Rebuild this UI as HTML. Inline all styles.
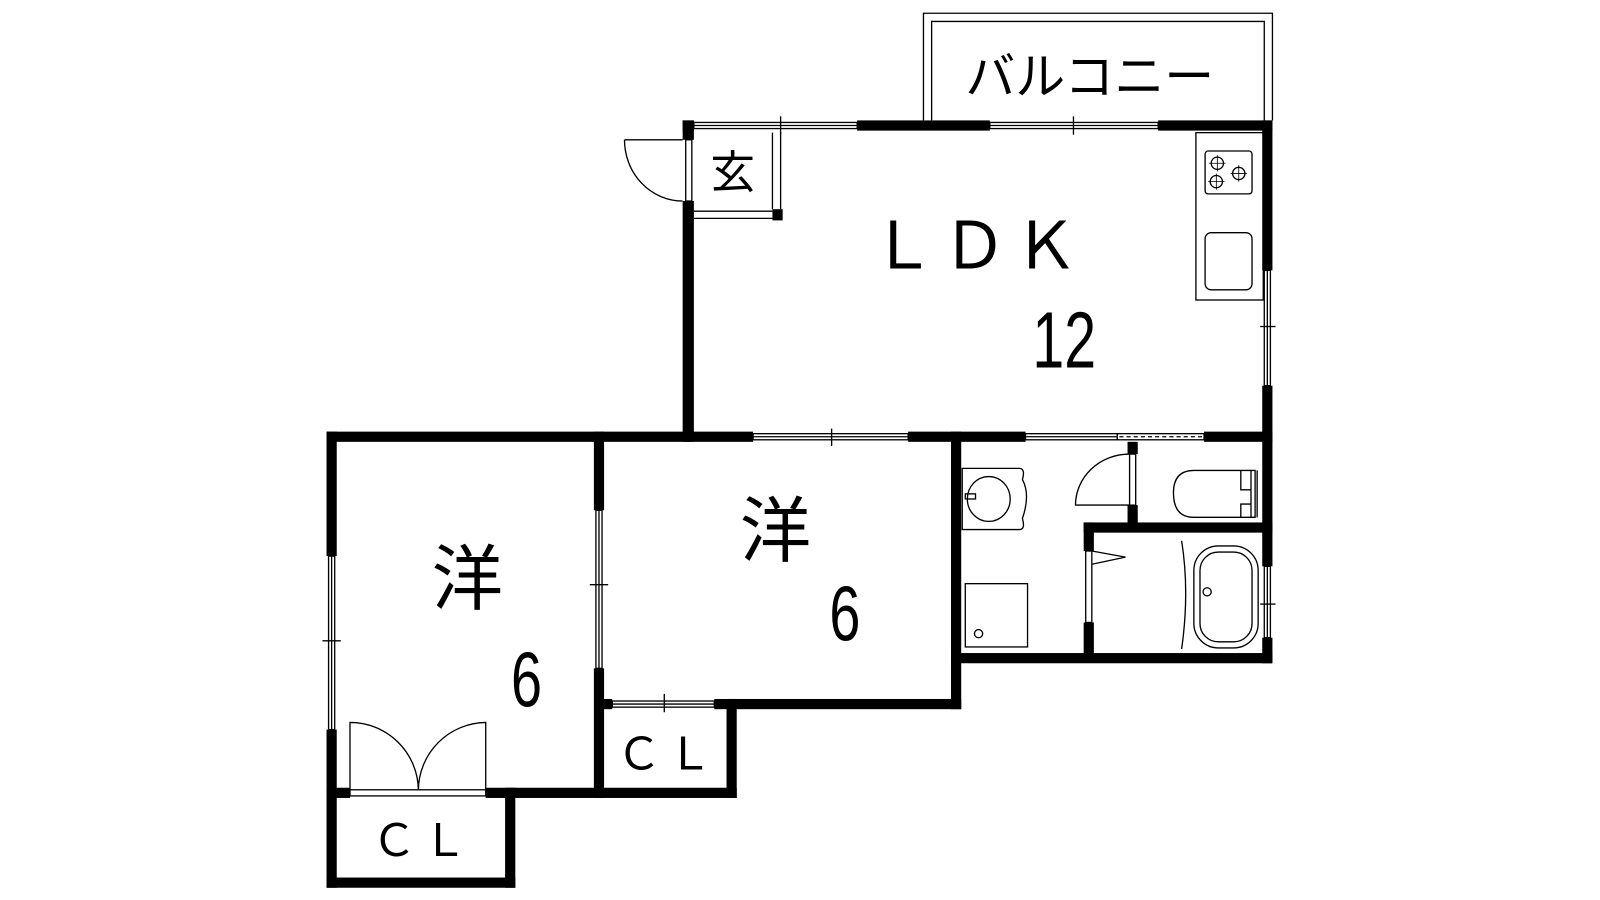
<!DOCTYPE html>
<html><head><meta charset="utf-8"><style>
html,body{margin:0;padding:0;background:#fff;width:1600px;height:900px;overflow:hidden}
svg text{font-family:"Liberation Sans","Noto Sans CJK JP",sans-serif;fill:#000}
</style></head><body>
<svg width="1600" height="900" viewBox="0 0 1600 900" xmlns="http://www.w3.org/2000/svg">
<g transform="scale(1.0204)">
<g fill="none" stroke="#000" stroke-width="1.3">
<path d="M905 118 V13 H1247 V118 M913 118 V21 H1239 V118"/>
<rect x="680" y="120" width="160" height="6"/><line x1="680" y1="123" x2="840" y2="123"/><line x1="765" y1="114" x2="765" y2="132"/>
<rect x="970" y="120" width="165" height="6"/><line x1="970" y1="123" x2="1135" y2="123"/><line x1="1052" y1="114" x2="1052" y2="132"/>
<rect x="1239" y="265" width="6" height="113"/><line x1="1242" y1="265" x2="1242" y2="378"/><line x1="1235" y1="320" x2="1250" y2="320"/>
<path d="M612 137 H669 M612 137 A57 60 0 0 0 669 197"/>
<rect x="672" y="137" width="6" height="60"/>
<path d="M757 130 V205 M765 130 V205 M680 207 H757 M680 214 H757"/>
<rect x="1172" y="130" width="66" height="164"/>
<rect x="1181" y="148" width="46" height="42" rx="3"/>
<circle cx="1193" cy="160" r="6"/><circle cx="1214" cy="170" r="6"/><circle cx="1192" cy="178" r="6"/>
<path d="M1193 152 V168 M1185 160 H1201 M1214 162 V178 M1206 170 H1222 M1192 170 V186 M1184 178 H1200" stroke-width="0.8"/>
<rect x="1181" y="228" width="46" height="56" rx="6"/>
<rect x="738" y="425" width="152" height="6"/><line x1="738" y1="428" x2="890" y2="428"/><line x1="815" y1="420" x2="815" y2="437"/>
<rect x="1005" y="425" width="90" height="6"/><line x1="1005" y1="428" x2="1095" y2="428"/>
<rect x="1095" y="425" width="85" height="6"/><line x1="1097" y1="428" x2="1178" y2="428" stroke-dasharray="4 3"/>
<rect x="322" y="545" width="6" height="170"/><line x1="325" y1="545" x2="325" y2="715"/><line x1="316" y1="628" x2="334" y2="628"/>
<rect x="584" y="500" width="6" height="155"/><line x1="587" y1="500" x2="587" y2="655"/><line x1="578" y1="573" x2="596" y2="573"/>
<rect x="600" y="687" width="100" height="6"/><line x1="600" y1="690" x2="700" y2="690"/><line x1="651" y1="680" x2="651" y2="698"/>
<rect x="343" y="774" width="133" height="6"/>
<path d="M343 774 V708 A67 67 0 0 1 410 774 M476 774 V708 A67 67 0 0 0 410 774"/>
<rect x="1239" y="555" width="6" height="70"/><line x1="1242" y1="555" x2="1242" y2="625"/><line x1="1235" y1="592" x2="1250" y2="592"/>
<rect x="1107" y="445" width="6" height="50"/>
<path d="M1107 495 H1054 A53 50 0 0 1 1107 445"/>
<rect x="1064" y="540" width="6" height="70"/>
<path d="M1070 540 L1103 546 L1070 553"/>
<path d="M943 459 H999 Q1005 459 1002 470 Q1010 485 1002 508 Q1005 519 999 519 H943 Z"/>
<ellipse cx="969" cy="489" rx="21" ry="22"/>
<rect x="946" y="484" width="10" height="5"/>
<rect x="946" y="572" width="61" height="62"/><circle cx="959" cy="621" r="4"/>
<path d="M1230 461 H1170 Q1150 461 1150 483 Q1150 507 1170 507 H1230 Z"/>
<path d="M1232 461 V507 M1226 461 V507"/>
<path d="M1216 461 V480 H1226 M1216 507 V494 H1226"/>
<path d="M1158 530 Q1166 580 1158 636"/>
<rect x="1170" y="535" width="63" height="100" rx="24"/>
<rect x="1176" y="541" width="51" height="88" rx="18"/>
<circle cx="1183" cy="580" r="4"/>
</g>
<g fill="#000">
<rect x="669" y="118" width="11" height="19"/>
<rect x="669" y="197" width="11" height="236"/>
<rect x="669" y="118" width="11" height="10"/>
<rect x="840" y="118" width="130" height="10"/>
<rect x="1135" y="118" width="112" height="10"/>
<rect x="1237" y="118" width="10" height="147"/>
<rect x="1237" y="378" width="10" height="177"/>
<rect x="1237" y="625" width="10" height="25"/>
<rect x="757" y="205" width="10" height="11"/>
<rect x="320" y="423" width="418" height="10"/>
<rect x="890" y="423" width="115" height="10"/>
<rect x="1180" y="423" width="67" height="10"/>
<rect x="320" y="423" width="10" height="122"/>
<rect x="320" y="715" width="10" height="155"/>
<rect x="582" y="423" width="10" height="77"/>
<rect x="582" y="655" width="10" height="127"/>
<rect x="320" y="772" width="23" height="10"/>
<rect x="476" y="772" width="246" height="10"/>
<rect x="495" y="772" width="10" height="98"/>
<rect x="320" y="860" width="185" height="10"/>
<rect x="592" y="685" width="8" height="10"/>
<rect x="700" y="685" width="242" height="10"/>
<rect x="712" y="685" width="10" height="97"/>
<rect x="932" y="423" width="10" height="272"/>
<rect x="932" y="640" width="315" height="10"/>
<rect x="1105" y="433" width="10" height="12"/>
<rect x="1105" y="495" width="10" height="22"/>
<rect x="1062" y="512" width="185" height="10"/>
<rect x="1062" y="512" width="10" height="28"/>
<rect x="1062" y="610" width="10" height="35"/>
</g>
<text x="1068" y="92" font-size="49" text-anchor="middle">バルコニー</text>
<text x="718" y="184" font-size="44" text-anchor="middle">玄</text>
<text x="958" y="263" font-size="64" text-anchor="middle" letter-spacing="6">ＬＤＫ</text>
<text transform="translate(1043,360) scale(0.72,1)" font-size="78" text-anchor="middle">12</text>
<text x="458" y="592" font-size="70" text-anchor="middle">洋</text>
<text transform="translate(516,692) scale(0.72,1)" font-size="76" text-anchor="middle">6</text>
<text x="760" y="545" font-size="70" text-anchor="middle">洋</text>
<text transform="translate(828,627) scale(0.72,1)" font-size="76" text-anchor="middle">6</text>
<text x="654" y="754" font-size="44" text-anchor="middle" letter-spacing="6">ＣＬ</text>
<text x="414" y="839" font-size="44" text-anchor="middle" letter-spacing="6">ＣＬ</text>
</g>
</svg>
</body></html>
